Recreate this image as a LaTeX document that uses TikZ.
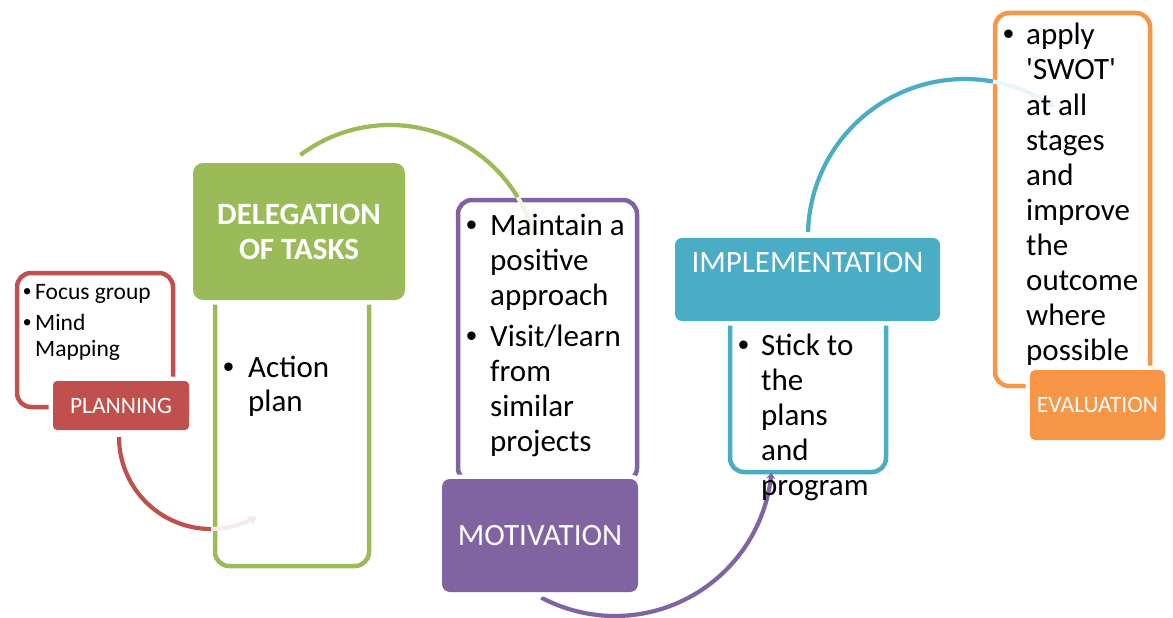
\documentclass[tikz,border=0pt]{standalone}
\usepackage{fontspec}
\setmainfont{Carlito}
\newfontfamily\plainq{Carlito}[Ligatures=TeXOff]
\newfontfamily\bulfont{Liberation Sans}
\usetikzlibrary{arrows.meta}
\definecolor{cred}{HTML}{C0504D}
\definecolor{cgreen}{HTML}{9BBB59}
\definecolor{cpurple}{HTML}{8064A2}
\definecolor{cblue}{HTML}{4BACC6}
\definecolor{corange}{HTML}{F79646}
\newcommand{\bul}{{\bulfont\textbullet}}
\tikzset{
  outl/.style={draw, line width=4.5pt, fill=white, rounded corners=14pt, inner sep=0pt},
  lab/.style={preaction={draw=white, line width=9pt}, text=white, inner sep=0pt, align=center},
  arcln/.style={line width=4.2pt},
  tipfaint/.style={-{Stealth[length=9pt,width=11pt]}},
  bodytxt/.style={anchor=base west, inner sep=0pt, font=\fontsize{31}{35}\selectfont},
  smalltxt/.style={anchor=base west, inner sep=0pt, font=\fontsize{23.5}{27}\selectfont},
  bigtxt/.style={font=\fontsize{31}{35}\selectfont},
  midtxt/.style={font=\fontsize{23.5}{27}\selectfont}
}
\begin{document}
\begin{tikzpicture}[x=1pt,y=-1pt]
\useasboundingbox (0,0) rectangle (1173,618);
\fill[white] (0,0) rectangle (1173,618);

% outline boxes
\node[outl, draw=cred, minimum width=156pt, minimum height=134pt] (pbox) at (95,340) {};
\node[outl, draw=cgreen, minimum width=154pt, minimum height=276pt] (dbox) at (292,428) {};
\node[outl, draw=cpurple, minimum width=179pt, minimum height=282pt] (mbox) at (547.5,341) {};
\node[outl, draw=cblue, minimum width=156pt, minimum height=162pt] (ibox) at (808,391) {};
\node[outl, draw=corange, minimum width=155pt, minimum height=373pt] (ebox) at (1072.5,199.5) {};

% arcs
\draw[arcln, cred] plot[domain=180:270, samples=40] ({211+92*cos(\x)},{437-92*sin(\x)});
\draw[arcln, cred!12, tipfaint] plot[domain=270:300, samples=20] ({211+92*cos(\x)},{437-92*sin(\x)});

\draw[arcln, cgreen] plot[domain=0:1, samples=50] ({390+149*cos(127-96*\x)},{274-149*sin(127-96*\x)});
\draw[arcln, cgreen!15, tipfaint] plot[domain=0:1, samples=20] ({390+149*cos(31-17*\x)},{274-149*sin(31-17*\x)});

\draw[arcln, cpurple, -{Stealth[length=6pt,width=9pt]}] plot[domain=242:355, samples=60] ({615+157*cos(\x)},{459-157*sin(\x)});

\draw[arcln, cblue] plot[domain=0:1, samples=50] ({965+157*cos(178.5-98.8*\x)},{236-157*sin(178.5-98.8*\x)});
\draw[arcln, cblue!12, tipfaint] plot[domain=0:1, samples=20] ({965+157*cos(79.7-24.7*\x)},{236-157*sin(79.7-24.7*\x)});

% labels
\node[lab, fill=cred, rounded corners=4pt, minimum width=136pt, minimum height=49pt, midtxt] (plan) at (121,405.5) {PLANNING};
\node[lab, fill=cgreen, rounded corners=10pt, minimum width=212pt, minimum height=137pt, bigtxt, font=\bfseries\fontsize{31}{35}\selectfont] (deleg) at (299,231.5) {DELEGATION\\OF TASKS};
\node[lab, fill=cpurple, rounded corners=8pt, minimum width=196pt, minimum height=113pt, bigtxt] (motiv) at (540,535.5) {MOTIVATION};
\node[lab, fill=cblue, rounded corners=7pt, minimum width=265pt, minimum height=83pt] (impl) at (807.5,279.5) {};
\node[anchor=base, inner sep=0pt, text=white, bigtxt] (impltxt) at (807.5,272) {IMPLEMENTATION};
\node[lab, fill=corange, rounded corners=5pt, minimum width=135pt, minimum height=70pt, midtxt] (evalu) at (1097.5,405) {EVALUATION};

% planning text
\node[smalltxt] (pb1) at (23,299) {\bul};
\node[smalltxt] (pt1) at (35,299) {Focus group};
\node[smalltxt] (pb2) at (23,330) {\bul};
\node[smalltxt] (pt2) at (35,330) {Mind};
\node[smalltxt] (pt3) at (35,356) {Mapping};

% delegation text
\node[bodytxt] (db1) at (223,377) {\bul};
\node[bodytxt] (dt1) at (248,377) {Action};
\node[bodytxt] (dt2) at (248,411) {plan};

% motivation text
\node[bodytxt] (mb1) at (466,235) {\bul};
\node[bodytxt] (mt1) at (490,235) {Maintain a};
\node[bodytxt] (mt2) at (490,270) {positive};
\node[bodytxt] (mt3) at (490,305) {approach};
\node[bodytxt] (mb2) at (466,346) {\bul};
\node[bodytxt] (mt4) at (490,346) {Visit/learn};
\node[bodytxt] (mt5) at (490,381) {from};
\node[bodytxt] (mt6) at (490,416) {similar};
\node[bodytxt] (mt7) at (490,451) {projects};

% implementation text
\node[bodytxt] (ib1) at (738,355) {\bul};
\node[bodytxt] (it1) at (761,355) {Stick to};
\node[bodytxt] (it2) at (761,390) {the};
\node[bodytxt] (it3) at (761,425) {plans};
\node[bodytxt] (it4) at (761,460) {and};
\node[bodytxt] (it5) at (761,495) {program};

% evaluation text
\node[bodytxt] (eb1) at (1003,45) {\bul};
\foreach \t [count=\i] in {apply,{\plainq 'SWOT'},at all,stages,and,improve,the,outcome,where,possible}
  \node[bodytxt] (et\i) at (1026,{10+35*\i}) {\t};
\end{tikzpicture}
\end{document}
